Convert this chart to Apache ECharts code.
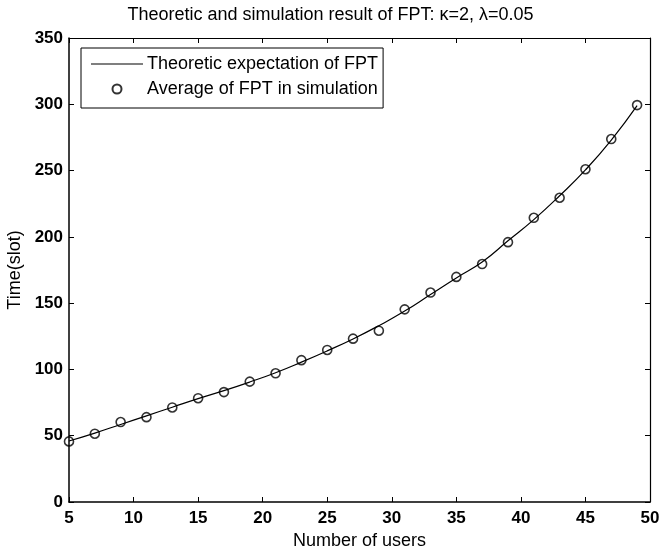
<!DOCTYPE html>
<html>
<head>
<meta charset="utf-8">
<script src="https://cdn.jsdelivr.net/npm/echarts@6/dist/echarts.min.js"></script>
<style>
html,body{margin:0;padding:0;background:#fff;}
#chart{width:661px;height:550px;}
</style>
</head>
<body>
<div id="chart"></div>
<script>
// Data
const users = [5, 7, 9, 11, 13, 15, 17, 19, 21, 23, 25, 27, 29, 31, 33, 35, 37, 39, 41, 43, 45, 47, 49];
const theoreticFPT = [46, 52, 58.5, 65, 71.5, 78, 84, 90.5, 97.5, 105.5, 114, 123, 133, 144, 156.5, 169, 181, 197, 213, 231, 250.5, 273, 299];
const simulatedFPT = [45.7, 51.5, 60.3, 64, 71.3, 78.3, 82.9, 90.8, 97.1, 107, 114.7, 123.2, 129.2, 145.3, 158, 169.8, 179.5, 196, 214.4, 229.5, 251, 273.8, 299.4];
const xTicks = {min: 5, max: 50, interval: 5};
const yTicks = {min: 0, max: 350, interval: 50};

const FONT = 'Liberation Sans, Arial, Helvetica, sans-serif';
const theoryData = users.map((u, i) => [u, theoreticFPT[i]]);
const simData = users.map((u, i) => [u, simulatedFPT[i]]);

const chart = echarts.init(document.getElementById('chart'), null, {renderer: 'canvas'});
const axisLine = {show: true, onZero: false, lineStyle: {color: '#000', width: 1.5}};
const tickIn = {show: true, inside: true, length: 5, lineStyle: {color: '#000', width: 1}};
chart.setOption({
  animation: false,
  backgroundColor: '#fff',
  title: {
    text: 'Theoretic and simulation result of FPT: \u03ba=2, \u03bb=0.05',
    left: 'center', top: 1,
    textStyle: {fontFamily: FONT, fontSize: 18, fontWeight: 'normal', color: '#000'}
  },
  grid: {left: 69, right: 11, top: 38, bottom: 48, outerBoundsMode: 'none', containLabel: false},
  legend: {
    orient: 'vertical',
    left: 81, top: 48,
    padding: [7, 5, 10, 10],
    itemGap: 7,
    itemWidth: 52, itemHeight: 9,
    borderColor: '#000', borderWidth: 1,
    backgroundColor: '#fff',
    textStyle: {fontFamily: FONT, fontSize: 18, color: '#000', lineHeight: 14, padding: [0, 0, 0, -1]},
    data: [
      {name: 'Theoretic expectation of FPT', icon: 'path://M0,0 H52 V1.2 H0 Z', itemStyle: {color: '#000', borderWidth: 0}},
      {name: 'Average of FPT in simulation'}
    ]
  },
  xAxis: [{
    type: 'value', min: xTicks.min, max: xTicks.max, interval: xTicks.interval,
    name: 'Number of users', nameLocation: 'middle', nameGap: 29,
    nameTextStyle: {fontFamily: FONT, fontSize: 18, color: '#000'},
    axisLine: axisLine, axisTick: tickIn,
    axisLabel: {fontFamily: FONT, fontSize: 17, fontWeight: 'bold', color: '#000', margin: 8},
    splitLine: {show: false}
  }, {
    type: 'value', position: 'top', min: xTicks.min, max: xTicks.max, interval: xTicks.interval,
    axisLine: {show: true, onZero: false, lineStyle: {color: '#000', width: 1.2}}, axisTick: tickIn,
    axisLabel: {show: false}, splitLine: {show: false}
  }],
  yAxis: [{
    type: 'value', min: yTicks.min, max: yTicks.max, interval: yTicks.interval,
    name: 'Time(slot)', nameLocation: 'middle', nameGap: 44, nameRotate: 90,
    nameTextStyle: {fontFamily: FONT, fontSize: 18, color: '#000'},
    axisLine: axisLine, axisTick: tickIn,
    axisLabel: {fontFamily: FONT, fontSize: 17, fontWeight: 'bold', color: '#000', margin: 6},
    splitLine: {show: false}
  }, {
    type: 'value', position: 'right', min: yTicks.min, max: yTicks.max, interval: yTicks.interval,
    axisLine: {show: true, onZero: false, lineStyle: {color: '#000', width: 1.2}}, axisTick: tickIn,
    axisLabel: {show: false}, splitLine: {show: false}
  }],
  series: [{
    name: 'Theoretic expectation of FPT',
    type: 'line', xAxisIndex: 0, yAxisIndex: 0,
    data: theoryData, smooth: true, symbol: 'none', showSymbol: false,
    lineStyle: {color: '#000', width: 1.2},
    itemStyle: {color: '#000'}
  }, {
    name: 'Average of FPT in simulation',
    type: 'scatter', xAxisIndex: 0, yAxisIndex: 0,
    data: simData, symbol: 'circle', symbolSize: 9,
    itemStyle: {color: 'rgba(255,255,255,0)', borderColor: '#000', borderWidth: 1.6}
  }]
});
</script>
</body>
</html>
